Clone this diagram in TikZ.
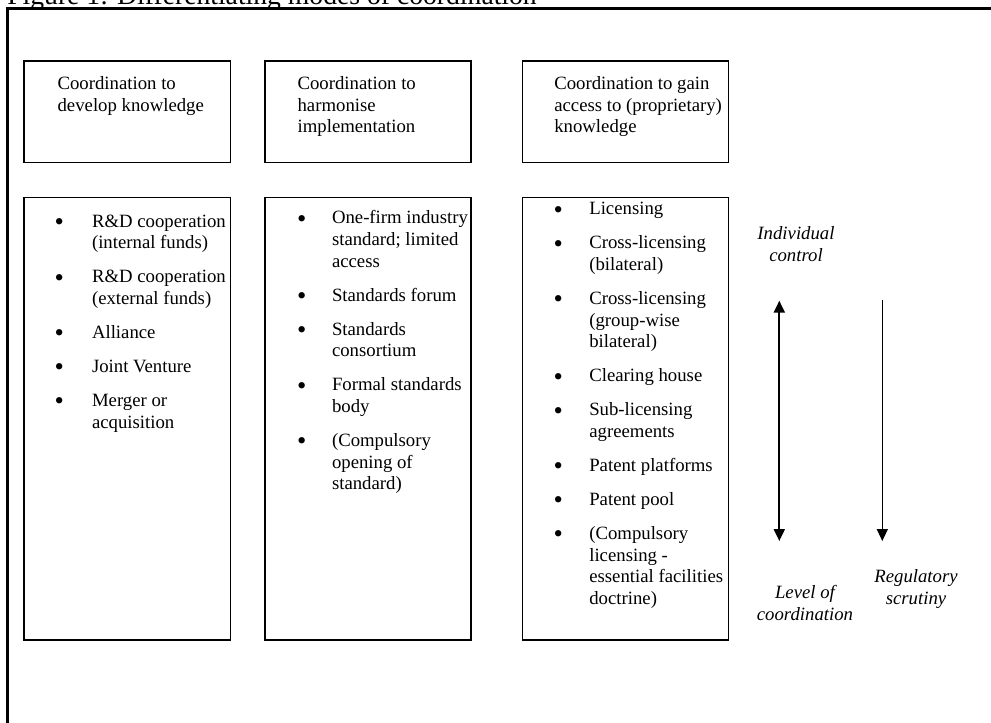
\documentclass[tikz,border=0pt]{standalone}
\usepackage{fontspec}
\setmainfont{Liberation Serif}
\usetikzlibrary{arrows.meta,fit}
\newcommand\bodyfont{\fontsize{12}{13.9}\selectfont}
\tikzset{
  x=0.64pt, y=-0.64pt,
  box/.style={draw, line width=0.75pt, inner sep=0pt},
  frameline/.style={line width=1.3pt},
  txt/.style={anchor=north west, inner sep=0pt, align=left, font=\bodyfont},
  bul/.style={anchor=base, inner sep=0pt, font=\fontsize{17}{18}\selectfont, yshift=-2.4pt},
  lab/.style={anchor=north, inner sep=0pt, align=center, font=\bodyfont\itshape},
  dblarrow/.style={line width=1.2pt, {Triangle[length=7.6pt,width=7pt]}-{Triangle[length=7.6pt,width=7pt]}},
  onearrow/.style={line width=0.8pt, -{Triangle[length=7.6pt,width=7pt]}}
}
\begin{document}
\begin{tikzpicture}
\useasboundingbox (0,0) rectangle (991,723);
\begin{scope}
\clip (0,0) rectangle (991,723);
\node[anchor=base west, inner sep=0pt, font=\fontsize{17.7}{20}\selectfont] (title) at (7,5) {Figure 1: Differentiating modes of coordination};
\end{scope}
% frame
\coordinate (f1) at (7.5,723);
\coordinate (f2) at (7.5,8.5);
\coordinate (f3) at (992,8.5);
\draw[frameline] (f1) -- (f2) -- (f3);
% top boxes
\node[box, fit={(24,61)(230.5,162.5)}] (t1) {};
\node[box, fit={(265,61)(471,162.5)}] (t2) {};
\node[box, fit={(522.5,61)(728.5,162.5)}] (t3) {};
\node[txt] (t1txt) at (57.3,73.8) {\strut Coordination to\\develop knowledge};
\node[txt] (t2txt) at (297.3,73.8) {\strut Coordination to\\harmonise\\implementation};
\node[txt] (t3txt) at (554,73.8) {\strut Coordination to gain\\access to (proprietary)\\knowledge};
% bottom boxes
\node[box, fit={(24,197.3)(230.5,640)}] (b1) {};
\node[box, fit={(265,197.3)(471,640)}] (b2) {};
\node[box, fit={(522.5,197.3)(728.5,640)}] (b3) {};
% box 1 items
\node[bul] (b1d1) at (59.3,226.7) {•};
\node[txt] (b1i1) at (91.7,211.5) {\strut R\&D cooperation\\(internal funds)};
\node[bul] (b1d2) at (59.3,282.4) {•};
\node[txt] (b1i2) at (91.7,267.2) {\strut R\&D cooperation\\(external funds)};
\node[bul] (b1d3) at (59.3,338.1) {•};
\node[txt] (b1i3) at (91.7,322.9) {\strut Alliance};
\node[bul] (b1d4) at (59.3,372.1) {•};
\node[txt] (b1i4) at (91.7,356.9) {\strut Joint Venture};
\node[bul] (b1d5) at (59.3,406.1) {•};
\node[txt] (b1i5) at (91.7,390.9) {\strut Merger or\\acquisition};
% box 2 items
\node[bul] (b2d1) at (301.7,223.3) {•};
\node[txt] (b2i1) at (331.7,208.1) {\strut One-firm industry\\standard; limited\\access};
\node[bul] (b2d2) at (301.7,300.7) {•};
\node[txt] (b2i2) at (331.7,285.5) {\strut Standards forum};
\node[bul] (b2d3) at (301.7,334.7) {•};
\node[txt] (b2i3) at (331.7,319.5) {\strut Standards\\consortium};
\node[bul] (b2d4) at (301.7,390.4) {•};
\node[txt] (b2i4) at (331.7,375.2) {\strut Formal standards\\body};
\node[bul] (b2d5) at (301.7,446.1) {•};
\node[txt] (b2i5) at (331.7,430.9) {\strut (Compulsory\\opening of\\standard)};
% box 3 items
\node[bul] (b3d1) at (558.3,214.3) {•};
\node[txt] (b3i1) at (589,199.1) {\strut Licensing};
\node[bul] (b3d2) at (558.3,248.3) {•};
\node[txt] (b3i2) at (589,233.1) {\strut Cross-licensing\\(bilateral)};
\node[bul] (b3d3) at (558.3,304.0) {•};
\node[txt] (b3i3) at (589,288.8) {\strut Cross-licensing\\(group-wise\\bilateral)};
\node[bul] (b3d4) at (558.3,381.4) {•};
\node[txt] (b3i4) at (589,366.2) {\strut Clearing house};
\node[bul] (b3d5) at (558.3,415.4) {•};
\node[txt] (b3i5) at (589,400.2) {\strut Sub-licensing\\agreements};
\node[bul] (b3d6) at (558.3,471.1) {•};
\node[txt] (b3i6) at (589,455.9) {\strut Patent platforms};
\node[bul] (b3d7) at (558.3,505.1) {•};
\node[txt] (b3i7) at (589,489.9) {\strut Patent pool};
\node[bul] (b3d8) at (558.3,539.1) {•};
\node[txt] (b3i8) at (589,523.9) {\strut (Compulsory\\licensing -\\essential facilities\\doctrine)};
% labels
\node[lab] (indiv) at (796,223.8) {\strut Individual\\control};
\node[lab] (level) at (805,582.8) {\strut Level of\\coordination};
\node[lab] (reg) at (916,566.8) {\strut Regulatory\\scrutiny};
% arrows
\coordinate (lt) at (779.3,300.7);
\coordinate (lb) at (779.3,541);
\coordinate (rt) at (882.3,300);
\coordinate (rb) at (882.3,541);
\draw[dblarrow] (lt) -- (lb);
\draw[onearrow] (rt) -- (rb);
\end{tikzpicture}
\end{document}
